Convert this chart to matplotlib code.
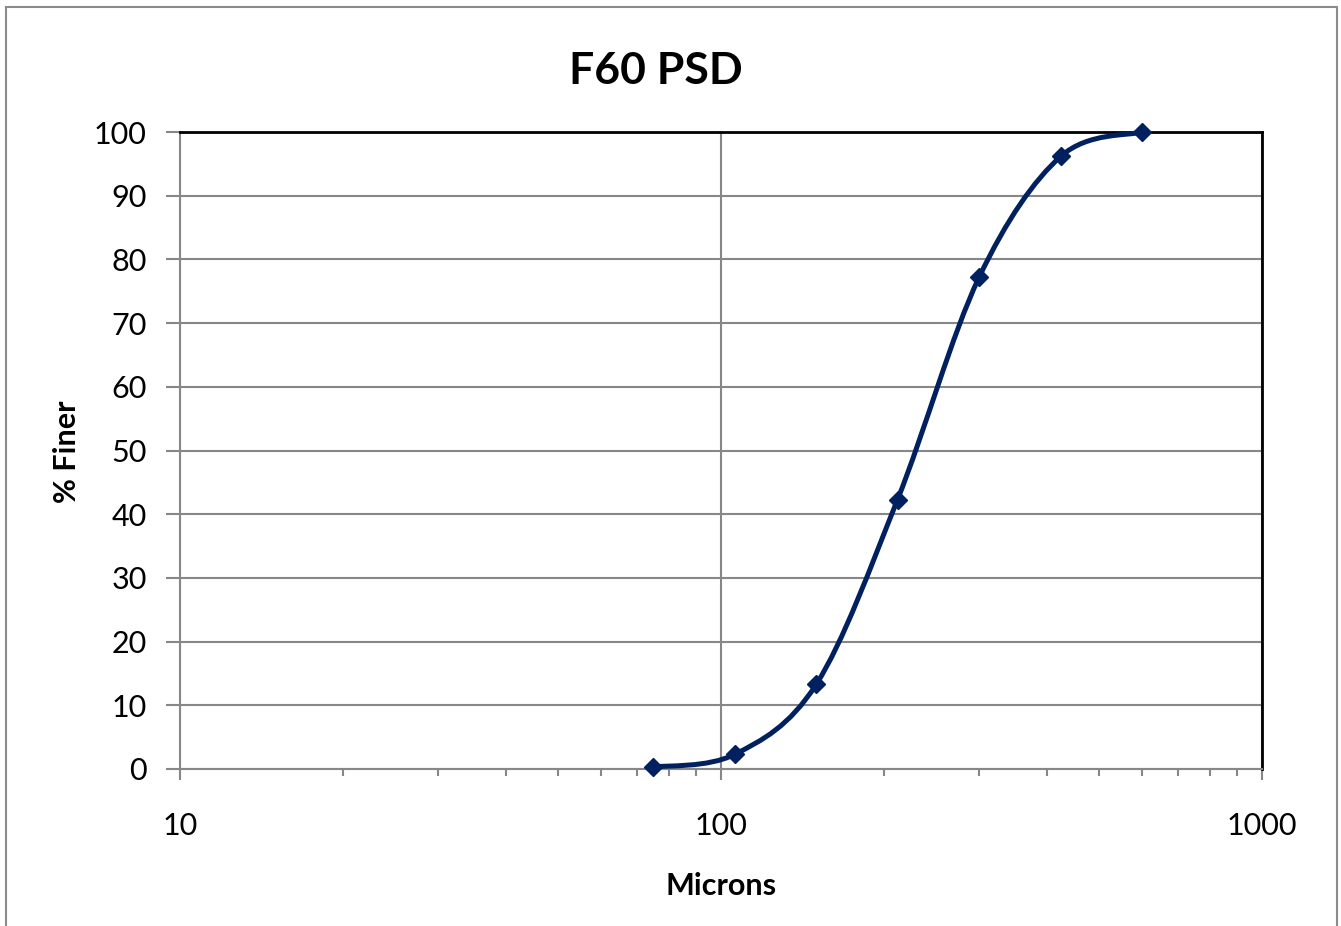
import numpy as np
import matplotlib
matplotlib.use("Agg")
import matplotlib.pyplot as plt
from matplotlib.path import Path
from matplotlib.patches import PathPatch, Rectangle
from matplotlib.ticker import FixedLocator, LogLocator, NullFormatter

# data
microns = [75, 106, 150, 212, 300, 425, 600]
finer = [0.3, 2.3, 13.3, 42.3, 77.2, 96.2, 100.0]

y_ticks = [0, 10, 20, 30, 40, 50, 60, 70, 80, 90, 100]
x_ticks = [10, 100, 1000]
x_tick_labels = ["10", "100", "1000"]

line_color = "#002060"
grid_color = "#878787"

plt.rcParams["font.family"] = ["Lato", "DejaVu Sans"]

# figure
W, H = 1341, 926
fig = plt.figure(figsize=(W / 100, H / 100), dpi=100)
ax = fig.add_axes([180 / W, 1 - 769 / H, (1262 - 180) / W, (769 - 132) / H])

ax.set_xscale("log")
ax.set_xlim(10, 1000)
ax.set_ylim(0, 100)

# ticks
ax.xaxis.set_major_locator(FixedLocator(x_ticks))
ax.set_xticklabels(x_tick_labels)
ax.xaxis.set_minor_locator(LogLocator(base=10, subs=np.arange(2, 10)))
ax.xaxis.set_minor_formatter(NullFormatter())
ax.set_yticks(y_ticks)
ax.tick_params(axis="x", which="major", length=8, width=1.5, color=grid_color,
               labelsize=22, pad=23)
ax.tick_params(axis="x", which="minor", length=5, width=1.5, color=grid_color)
ax.tick_params(axis="y", which="major", length=10, width=1.5, color=grid_color,
               labelsize=22, pad=14)

# grid
ax.grid(True, which="major", axis="both", color=grid_color, linewidth=1.5)
ax.set_axisbelow(True)

# spines
ax.spines["left"].set_color(grid_color)
ax.spines["bottom"].set_color(grid_color)
ax.spines["left"].set_linewidth(1.5)
ax.spines["bottom"].set_linewidth(1.5)
ax.spines["top"].set_color("black")
ax.spines["right"].set_color("black")
ax.spines["top"].set_linewidth(2)
ax.spines["right"].set_linewidth(2)

# smoothed line (bezier in log-x space, like excel)
pts = np.column_stack([np.log10(microns), finer])
ext = np.vstack([pts[0], pts, pts[-1]])
verts = [pts[0]]
codes = [Path.MOVETO]
for i in range(len(pts) - 1):
    p0, p1, p2, p3 = ext[i], ext[i + 1], ext[i + 2], ext[i + 3]
    c1 = p1 + (p2 - p0) / 6.0
    c2 = p2 - (p3 - p1) / 6.0
    verts += [c1, c2, p2]
    codes += [Path.CURVE4] * 3
verts = np.array(verts)
verts[:, 0] = 10 ** verts[:, 0]
patch = PathPatch(Path(verts, codes), facecolor="none", edgecolor=line_color,
                  linewidth=3.6, transform=ax.transData, clip_on=False, zorder=3)
ax.add_patch(patch)

ax.plot(microns, finer, linestyle="none", marker="D", markersize=9.5,
        color=line_color, markeredgewidth=1, clip_on=False, zorder=4)

# texts
fig.text(656 / W, 1 - 84 / H, "F60 PSD", ha="center", va="baseline",
         fontsize=32, fontweight="bold")
fig.text(721 / W, 1 - 895 / H, "Microns", ha="center", va="baseline",
         fontsize=22, fontweight="bold")
fig.text(76 / W, 1 - 452 / H, "% Finer", ha="center", va="baseline",
         rotation=90, rotation_mode="anchor", fontsize=22, fontweight="bold")

# chart border
fig.patches.append(Rectangle((6 / W, -0.05), (1337 - 6) / W, 1.05 - 7 / H,
                             transform=fig.transFigure, fill=False,
                             edgecolor="#8c8c8c", linewidth=1.5))

fig.savefig("out.png", dpi=100)
